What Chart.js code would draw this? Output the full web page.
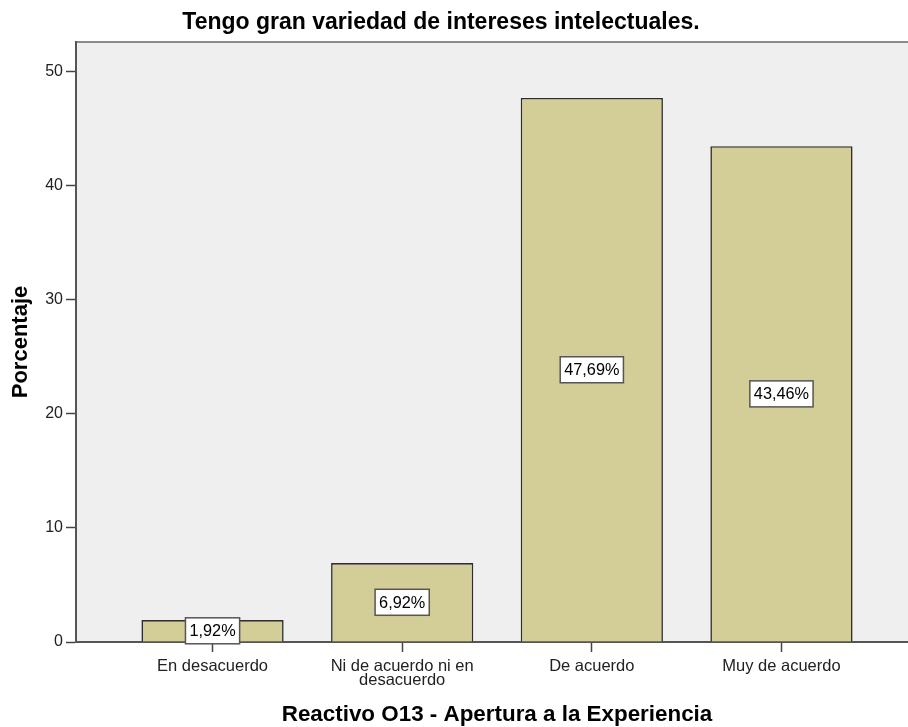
<!DOCTYPE html>
<html>
<head>
<meta charset="utf-8">
<script src="https://cdn.jsdelivr.net/npm/chart.js@4.4.1/dist/chart.umd.min.js"></script>
<style>
  html, body { margin: 0; padding: 0; background: #fff; overflow: hidden; }
  /* canvas is a bit wider than the window so the plot runs off the right edge like the original */
  #wrap { width: 954px; height: 727px; margin-left: -36px; }
</style>
</head>
<body>
<div id="wrap"><canvas id="myChart" width="954" height="727"></canvas></div>
<script>
// chart data
const categories = ['En desacuerdo', ['Ni de acuerdo ni en', 'desacuerdo'], 'De acuerdo', 'Muy de acuerdo'];
const percentages = [1.92, 6.92, 47.69, 43.46];
const yTicks = [0, 10, 20, 30, 40, 50];
const chartTitle = 'Tengo gran variedad de intereses intelectuales.';
const xTitle = 'Reactivo O13 - Apertura a la Experiencia';
const yTitle = 'Porcentaje';

const FONT = "'Liberation Sans', Arial, sans-serif";

// Plot background and the top frame line
const plotFrame = {
    id: 'plotFrame',
    beforeDraw(chart) {
        const { ctx, chartArea: a } = chart;
        ctx.save();
        ctx.fillStyle = '#efefef';
        ctx.fillRect(a.left, a.top, a.right - a.left, a.bottom - a.top);
        ctx.strokeStyle = '#8a8a8a';
        ctx.lineWidth = 2;
        ctx.beginPath();
        ctx.moveTo(a.left, a.top);
        ctx.lineTo(a.right, a.top);
        ctx.stroke();
        ctx.restore();
    }
};

// Boxed percentage label in the middle of every bar
const barLabels = {
    id: 'barLabels',
    afterDatasetsDraw(chart) {
        const ctx = chart.ctx;
        const meta = chart.getDatasetMeta(0);
        ctx.save();
        ctx.font = '16.3px ' + FONT;
        ctx.textAlign = 'center';
        ctx.textBaseline = 'middle';
        meta.data.forEach((bar, i) => {
            const text = percentages[i].toFixed(2).replace('.', ',') + '%';
            const w = ctx.measureText(text).width + 8;
            const h = 26;
            const cy = (bar.y + bar.base) / 2;
            ctx.fillStyle = '#fff';
            ctx.fillRect(bar.x - w / 2, cy - h / 2, w, h);
            ctx.strokeStyle = '#555';
            ctx.lineWidth = 1.5;
            ctx.strokeRect(bar.x - w / 2, cy - h / 2, w, h);
            ctx.fillStyle = '#000';
            ctx.fillText(text, bar.x, cy + 1);
        });
        ctx.restore();
    }
};

const ctx = document.getElementById('myChart').getContext('2d');
const myChart = new Chart(ctx, {
    type: 'bar',
    data: {
        datasets: [{
            data: percentages.map((v, i) => ({ x: i, y: v })),
            backgroundColor: '#d3ce97',
            borderColor: '#2e2e2e',
            borderWidth: 1.6,
            categoryPercentage: 0.75,
            barPercentage: 1
        }]
    },
    options: {
        responsive: false,
        devicePixelRatio: 1,
        animation: false,
        layout: { padding: 0 },
        plugins: {
            legend: { display: false },
            tooltip: { enabled: false },
            title: {
                display: true,
                text: chartTitle,
                color: '#000',
                font: { family: FONT, size: 23, weight: 'bold' },
                padding: { top: 9, bottom: 5.4 }
            }
        },
        scales: {
            x: {
                type: 'linear',
                offset: false,
                min: -0.72,
                max: 3.72,
                afterBuildTicks: scale => { scale.ticks = categories.map((c, i) => ({ value: i })); },
                afterFit: scale => { scale.height = 85; },
                ticks: {
                    autoSkip: false,
                    maxRotation: 0,
                    padding: 7,
                    color: '#222',
                    font: { family: FONT, size: 16.5, lineHeight: '14px' },
                    callback: value => categories[value]
                },
                grid: { offset: false, drawOnChartArea: false, tickLength: 10, tickColor: '#444', tickWidth: 1.5 },
                border: { color: '#555', width: 2 },
                title: {
                    display: true,
                    text: xTitle,
                    color: '#000',
                    font: { family: FONT, size: 22.4, weight: 'bold', lineHeight: 1.1 },
                    padding: { top: 0, bottom: 0 }
                }
            },
            y: {
                min: 0,
                max: 52.6,
                afterBuildTicks: scale => { scale.ticks = yTicks.map(v => ({ value: v })); },
                afterFit: scale => { scale.width = 112; },
                ticks: {
                    padding: 3,
                    color: '#222',
                    font: { family: FONT, size: 16 }
                },
                grid: { drawOnChartArea: false, tickLength: 10, tickColor: '#444', tickWidth: 1.5 },
                border: { color: '#555', width: 2 },
                title: {
                    display: true,
                    text: yTitle,
                    color: '#000',
                    font: { family: FONT, size: 22, weight: 'bold' },
                    padding: { top: 44, bottom: 0 }
                }
            }
        }
    },
    plugins: [plotFrame, barLabels]
});
</script>
</body>
</html>
